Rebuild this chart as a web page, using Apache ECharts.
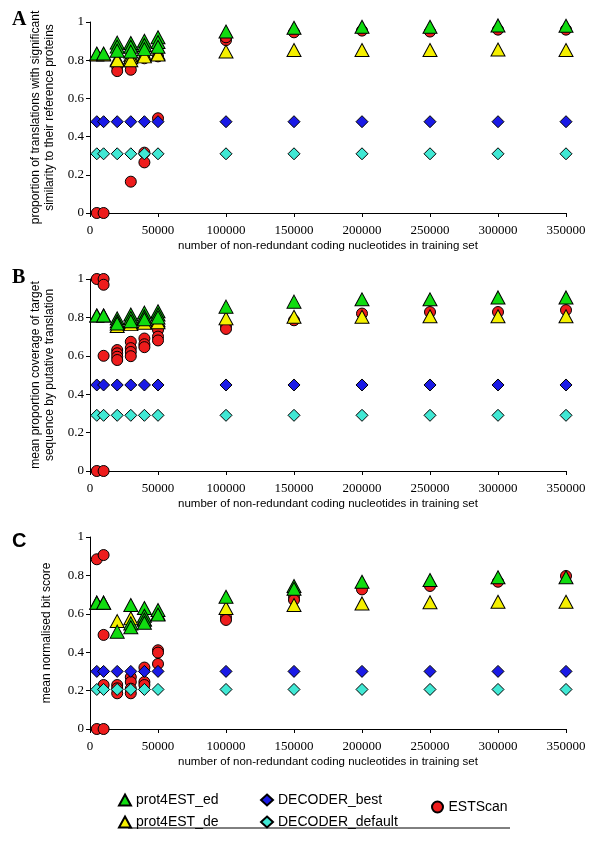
<!DOCTYPE html>
<html>
<head>
<meta charset="utf-8">
<script src="https://cdn.jsdelivr.net/npm/echarts@6/dist/echarts.min.js"></script>
<style>html,body{margin:0;padding:0;background:#fff;}#c{width:600px;height:849px;}</style>
</head>
<body>
<div id="c"></div>
<script>
// ---- data ----
const seriesNames = ['ESTScan', 'DECODER_default', 'DECODER_best', 'prot4EST_de', 'prot4EST_ed'];
const xTicks = [0, 50000, 100000, 150000, 200000, 250000, 300000, 350000];
const sizesAll = [5000, 10000, 20000, 30000, 40000, 50000, 100000, 150000, 200000, 250000, 300000, 350000];

// Panel A: proportion of translations with significant similarity
const A_ed = [[5000,0.835],[10000,0.835],[20000,0.892],[20000,0.871],[20000,0.85],[30000,0.89],[30000,0.87],[30000,0.845],[40000,0.902],[40000,0.88],[40000,0.858],[50000,0.92],[50000,0.895],[50000,0.87],[100000,0.95],[150000,0.97],[200000,0.975],[250000,0.975],[300000,0.982],[350000,0.98]];
const A_de = [[5000,0.83],[10000,0.83],[20000,0.805],[20000,0.8],[30000,0.827],[30000,0.815],[30000,0.8],[40000,0.83],[40000,0.82],[50000,0.835],[50000,0.83],[100000,0.845],[150000,0.853],[200000,0.853],[250000,0.853],[300000,0.856],[350000,0.853]];
const A_best = [0.478,0.478,0.478,0.478,0.478,0.478,0.478,0.478,0.478,0.478,0.478,0.478];
const A_default = [0.31,0.31,0.31,0.31,0.31,0.31,0.31,0.31,0.31,0.31,0.31,0.31];
const A_est = [[5000,0],[10000,0],[20000,0.766],[20000,0.743],[30000,0.775],[30000,0.75],[30000,0.164],[40000,0.81],[40000,0.316],[40000,0.265],[50000,0.496],[50000,0.82],[100000,0.905],[100000,0.92],[150000,0.946],[200000,0.955],[250000,0.95],[300000,0.96],[350000,0.96]];

// Panel B: mean proportion coverage
const B_ed = [[5000,0.81],[10000,0.81],[20000,0.795],[20000,0.78],[20000,0.768],[30000,0.815],[30000,0.797],[30000,0.78],[40000,0.825],[40000,0.805],[40000,0.79],[50000,0.832],[50000,0.815],[50000,0.8],[100000,0.856],[150000,0.882],[200000,0.894],[250000,0.894],[300000,0.904],[350000,0.904]];
const B_de = [[5000,0.81],[10000,0.81],[20000,0.755],[30000,0.77],[30000,0.765],[40000,0.772],[50000,0.785],[50000,0.775],[100000,0.795],[150000,0.803],[200000,0.803],[250000,0.806],[300000,0.806],[350000,0.806]];
const B_best = [0.448,0.448,0.448,0.448,0.448,0.448,0.448,0.448,0.448,0.448,0.448,0.448];
const B_default = [0.29,0.29,0.29,0.29,0.29,0.29,0.29,0.29,0.29,0.29,0.29,0.29];
const B_est = [[5000,1],[5000,0],[10000,1],[10000,0.97],[10000,0.6],[10000,0],[20000,0.63],[20000,0.613],[20000,0.595],[20000,0.578],[30000,0.673],[30000,0.64],[30000,0.62],[30000,0.598],[40000,0.69],[40000,0.66],[40000,0.645],[50000,0.735],[50000,0.7],[50000,0.68],[100000,0.757],[100000,0.74],[150000,0.785],[200000,0.82],[250000,0.828],[300000,0.828],[350000,0.838]];

// Panel C: mean normalised bit score
const C_ed = [[5000,0.658],[10000,0.658],[20000,0.507],[30000,0.646],[30000,0.55],[30000,0.53],[40000,0.63],[40000,0.59],[40000,0.57],[40000,0.553],[50000,0.62],[50000,0.596],[100000,0.689],[150000,0.745],[150000,0.73],[200000,0.767],[250000,0.776],[300000,0.79],[350000,0.79]];
const C_de = [[5000,0.658],[10000,0.658],[20000,0.562],[30000,0.577],[40000,0.57],[50000,0.6],[100000,0.63],[150000,0.646],[200000,0.654],[250000,0.66],[300000,0.663],[350000,0.663]];
const C_best = [0.3,0.3,0.3,0.3,0.3,0.3,0.3,0.3,0.3,0.3,0.3,0.3];
const C_default = [0.206,0.206,0.206,0.206,0.206,0.206,0.206,0.206,0.206,0.206,0.206,0.206];
const C_est = [[5000,0.884],[5000,0],[10000,0.906],[10000,0.49],[10000,0.229],[10000,0],[20000,0.229],[20000,0.212],[20000,0.186],[30000,0.27],[30000,0.245],[30000,0.21],[30000,0.186],[40000,0.32],[40000,0.245],[40000,0.229],[50000,0.41],[50000,0.398],[50000,0.339],[100000,0.582],[100000,0.568],[150000,0.69],[150000,0.672],[200000,0.727],[250000,0.745],[300000,0.767],[350000,0.797]];

const yNames = [
  'proportion of translations with significant\nsimilarity to their reference proteins',
  'mean proportion coverage of target\nsequence by putative translation',
  'mean normalised bit score'
];
const xName = 'number of non-redundant coding nucleotides in training set';
const panelLetters = ['A', 'B', 'C'];

// ---- styles ----
const styles = {
  'ESTScan':        {symbol: 'circle',   size: 11,   color: '#ee1c1c'},
  'DECODER_default':{symbol: 'diamond',  size: 12,   color: '#40e8d4'},
  'DECODER_best':   {symbol: 'diamond',  size: 12,   color: '#1a1ae6'},
  'prot4EST_de':    {symbol: 'triangle', size: [14, 13], color: '#f5f000'},
  'prot4EST_ed':    {symbol: 'triangle', size: [14, 13], color: '#10dc10'}
};

const panels = [
  {ed: A_ed, de: A_de, best: A_best, def: A_default, est: A_est},
  {ed: B_ed, de: B_de, best: B_best, def: B_default, est: B_est},
  {ed: C_ed, de: C_de, best: C_best, def: C_default, est: C_est}
];
const gridTops = [22, 279, 537];
const gridH = 191;

const pair = arr => arr.map((v, i) => [sizesAll[i], v]);

const grids = [], xAxes = [], yAxes = [], series = [];
panels.forEach((p, i) => {
  grids.push({left: 90, right: 34, top: gridTops[i], height: gridH + (i > 0 ? 1 : 0)});
  xAxes.push({
    type: 'value', gridIndex: i, min: 0, max: 350000, interval: 50000, offset: 6,
    name: xName, nameLocation: 'middle', nameGap: 21,
    nameTextStyle: {fontFamily: 'Liberation Sans', fontSize: 11.5, color: '#000'},
    axisLine: {show: true, lineStyle: {color: '#000', width: 1}},
    axisTick: {show: true, length: 4, lineStyle: {color: '#000'}},
    axisLabel: {fontFamily: 'Liberation Serif', fontSize: 13, color: '#000', margin: 5,
      formatter: v => String(v)},
    splitLine: {show: false}
  });
  yAxes.push({
    type: 'value', gridIndex: i, min: 0, max: 1, interval: 0.2,
    name: yNames[i], nameLocation: 'middle', nameGap: i === 2 ? 36 : 31,
    nameTextStyle: {fontFamily: 'Liberation Sans', fontSize: 12, color: '#000', lineHeight: 14},
    axisLine: {show: true, lineStyle: {color: '#000', width: 1}},
    axisTick: {show: true, length: 4, lineStyle: {color: '#000'}},
    axisLabel: {fontFamily: 'Liberation Serif', fontSize: 13, color: '#000', margin: 6},
    splitLine: {show: false}
  });
  const dataMap = {
    'ESTScan': p.est,
    'DECODER_default': pair(p.def),
    'DECODER_best': pair(p.best),
    'prot4EST_de': p.de,
    'prot4EST_ed': p.ed
  };
  seriesNames.forEach(n => {
    const s = styles[n];
    series.push({
      name: n, type: 'scatter', xAxisIndex: i, yAxisIndex: i,
      symbol: s.symbol, symbolSize: s.size, clip: false,
      itemStyle: {color: s.color, borderColor: '#000', borderWidth: 1, opacity: 1},
      emphasis: {disabled: true},
      data: dataMap[n]
    });
  });
});

const legendText = {fontFamily: 'Liberation Sans', fontSize: 14, color: '#000'};
const chart = echarts.init(document.getElementById('c'), null, {renderer: 'canvas'});
chart.setOption({
  backgroundColor: '#fff',
  animation: false,
  title: panelLetters.map((t, i) => ({
    text: t, left: 12, top: [10, 268, 531][i], padding: 0,
    textStyle: {fontFamily: i === 2 ? 'Liberation Sans' : 'Liberation Serif', fontWeight: 'bold', fontSize: 20, color: '#000'}
  })),
  grid: grids,
  xAxis: xAxes,
  yAxis: yAxes,
  legend: [
    {data: ['prot4EST_ed', 'prot4EST_de'], orient: 'vertical', left: 118, top: 793, itemWidth: 12, itemHeight: 11, itemGap: 8, textStyle: legendText, selectedMode: false, padding: 0},
    {data: ['DECODER_best', 'DECODER_default'], orient: 'vertical', left: 260, top: 793, itemWidth: 12, itemHeight: 11, itemGap: 8, textStyle: legendText, selectedMode: false, padding: 0},
    {data: ['ESTScan'], orient: 'vertical', left: 431, top: 800, itemWidth: 12, itemHeight: 11, textStyle: legendText, selectedMode: false, padding: 0}
  ],
  graphic: [
    {type: 'line', shape: {x1: 128, y1: 828, x2: 510, y2: 828}, style: {stroke: '#000', lineWidth: 1}}
  ],
  series: series
});
</script>
</body>
</html>
